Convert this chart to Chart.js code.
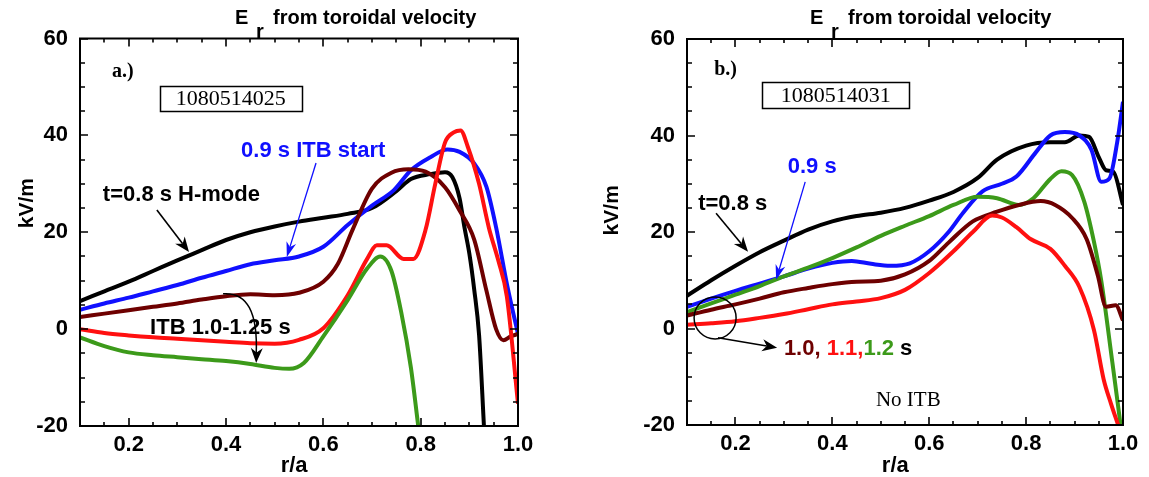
<!DOCTYPE html>
<html><head><meta charset="utf-8">
<script src="https://cdn.jsdelivr.net/npm/chart.js@4.4.0/dist/chart.umd.min.js"></script>
<style>
html,body{margin:0;padding:0;background:#fff;}
#wrap{position:relative;width:1149px;height:477px;overflow:hidden;}
#c1{position:absolute;left:0;top:0;}
#c2{position:absolute;left:575px;top:0;}
</style></head><body>
<div id="wrap"><canvas id="c1" width="575" height="477"></canvas><canvas id="c2" width="574" height="477"></canvas></div>
<script>
// ---------- tick labels ----------
const xTicks = [0.2, 0.4, 0.6, 0.8, 1.0];
const yTicks = [-20, 0, 20, 40, 60];

// ---------- panel a (1080514025) ----------
const aBlackX = [0.1,0.15,0.2,0.25,0.3,0.35,0.4,0.45,0.5,0.55,0.6,0.65,0.7,0.75,0.78,0.82,0.85,0.865,0.88,0.89,0.9,0.91,0.92,0.93];
const aBlackY = [5.8,7.8,9.8,12,14.2,16.3,18.4,20,21.2,22.2,23,23.8,25,28.5,31,32,32.4,31.4,27,21,15.6,8.2,-1.2,-20];
const aBlueX = [0.1,0.15,0.2,0.25,0.3,0.35,0.4,0.45,0.5,0.55,0.6,0.65,0.7,0.745,0.78,0.82,0.855,0.88,0.91,0.935,0.955,0.978,1.0];
const aBlueY = [4,5.3,6.5,7.8,9.1,10.6,12,13.4,14.2,15,17,21.5,25.5,28.7,32.8,35.5,37.1,36.6,34.2,29.4,21,8.9,-1];
const aMaroonX = [0.1,0.15,0.2,0.25,0.3,0.35,0.4,0.45,0.5,0.55,0.6,0.63,0.66,0.7,0.74,0.775,0.81,0.85,0.88,0.91,0.935,0.955,0.97,0.985,1.0];
const aMaroonY = [2.5,3.2,3.9,4.6,5.3,6.1,6.8,7.2,7,7.5,9.8,13.5,20.5,29,32.3,33,32.5,29.3,24.5,18.5,8,0,-2.3,-1.5,-1];
const aRedX = [0.1,0.15,0.2,0.25,0.3,0.35,0.4,0.45,0.5,0.55,0.6,0.65,0.69,0.71,0.73,0.765,0.785,0.81,0.83,0.85,0.868,0.882,0.897,0.92,0.94,0.96,0.977,1.0];
const aRedY = [0,-0.8,-1.3,-1.7,-2,-2.3,-2.6,-2.9,-3,-2.2,0.2,7,14.5,17.3,17.3,14.5,14.5,20.5,30,38.5,40.6,41,37.6,30,21,14,6.8,-15.4];
const aGreenX = [0.1,0.15,0.2,0.25,0.3,0.35,0.4,0.45,0.5,0.53,0.56,0.6,0.65,0.69,0.717,0.74,0.76,0.78,0.795];
const aGreenY = [-1.7,-3.5,-4.8,-5.4,-5.8,-6.2,-6.6,-7.2,-8,-8.2,-7,-1.5,6,12.5,15,12,3.5,-8,-20];

// ---------- panel b (1080514031) ----------
const bBlackX = [0.1,0.15,0.2,0.25,0.3,0.35,0.4,0.45,0.5,0.55,0.6,0.65,0.7,0.74,0.8,0.85,0.88,0.91,0.93,0.95,0.965,0.98,1.0];
const bBlackY = [6.8,10,13,15.8,18.2,20.5,22.2,23.3,24,25,26.5,28.3,31.2,35,37.9,38.6,38.6,40,39.7,35.5,32.8,32.5,25.6];
const bBlueX = [0.1,0.15,0.2,0.25,0.3,0.35,0.4,0.44,0.48,0.52,0.56,0.6,0.64,0.67,0.71,0.75,0.78,0.82,0.85,0.88,0.91,0.935,0.955,0.972,0.988,1.0];
const bBlueY = [4.5,6.2,7.8,9.3,10.8,12.4,13.6,14,13.4,13,13.5,16,20,24,28.4,30,31.5,36.5,40,40.7,40,37,30.4,31.1,38.6,47];
const bMaroonX = [0.1,0.15,0.2,0.25,0.3,0.35,0.4,0.45,0.5,0.55,0.6,0.64,0.69,0.74,0.785,0.83,0.86,0.895,0.925,0.948,0.965,0.985,1.0];
const bMaroonY = [2.7,3.9,5,6.2,7.5,8.4,9.2,9.7,9.9,11.2,14,17.8,22.2,24.2,25.6,26.4,25.6,22.9,18.5,11,4.5,4.8,1.7];
const bRedX = [0.1,0.15,0.2,0.25,0.3,0.35,0.4,0.45,0.5,0.55,0.6,0.65,0.69,0.73,0.75,0.78,0.81,0.85,0.88,0.91,0.94,0.96,0.975,0.99];
const bRedY = [0.8,1.1,1.5,2.2,3,4,5,5.6,6.3,8,11.5,16,20,23.4,23,21,18.5,16.5,13,8.6,-0.3,-10.5,-15.5,-20];
const bGreenX = [0.1,0.15,0.2,0.25,0.3,0.35,0.4,0.45,0.5,0.55,0.6,0.65,0.7,0.74,0.785,0.815,0.85,0.873,0.895,0.92,0.94,0.955,0.978,0.995];
const bGreenY = [3.4,5.2,7,8.8,10.8,12.6,14.6,16.8,19.2,21.3,23.3,25.6,27.3,27,25.6,27,31,32.6,31.8,26.3,18,10,-7,-20];

const COL = {black:'#000000', blue:'#1010ff', maroon:'#6e0000', red:'#ff1010', green:'#3c9a1a'};
const SANS = '"Liberation Sans", Arial, sans-serif';
const SERIF = '"Liberation Serif", "Times New Roman", serif';

function pts(xs, ys){ return xs.map((x,i)=>({x:x, y:ys[i]})); }
function ds(xs, ys, color){
  return {data: pts(xs,ys), borderColor: color, borderWidth: 4, pointRadius: 0,
          fill:false, cubicInterpolationMode:'monotone', clip: 0, borderJoinStyle:'round', borderCapStyle:'butt'};
}

function arrow(ctx,x1,y1,x2,y2,color,lw,hl,hw){
  hl = hl||14; hw = hw||5;
  ctx.strokeStyle=color; ctx.fillStyle=color; ctx.lineWidth=lw;
  const ang=Math.atan2(y2-y1,x2-x1), c=Math.cos(ang), s=Math.sin(ang);
  const bx=x2-c*hl*0.7, by=y2-s*hl*0.7;
  ctx.beginPath(); ctx.moveTo(x1,y1); ctx.lineTo(bx,by); ctx.stroke();
  head(ctx,x2,y2,ang,hl,hw);
}
function head(ctx,x2,y2,ang,hl,hw){
  const c=Math.cos(ang), s=Math.sin(ang);
  const bx=x2-c*hl*0.7, by=y2-s*hl*0.7;
  ctx.beginPath(); ctx.moveTo(x2,y2);
  ctx.lineTo(x2-c*hl - s*hw, y2-s*hl + c*hw);
  ctx.lineTo(bx,by);
  ctx.lineTo(x2-c*hl + s*hw, y2-s*hl - c*hw);
  ctx.closePath(); ctx.fill();
}

function frameAndTicks(chart){
  const ctx=chart.ctx, xs=chart.scales.x, ys=chart.scales.y, a=chart.chartArea;
  ctx.strokeStyle='#000'; ctx.lineWidth=2;
  ctx.strokeRect(a.left,a.top,a.right-a.left,a.bottom-a.top);
  ctx.lineWidth=1.6;
  ctx.beginPath();
  for(let k=2;k<=20;k++){
    const px=Math.round(xs.getPixelForValue(k/20));
    const L = (k%4===0)?8:4;
    ctx.moveTo(px,a.bottom); ctx.lineTo(px,a.bottom-L);
    ctx.moveTo(px,a.top); ctx.lineTo(px,a.top+L);
  }
  for(let v=-20; v<=60; v+=5){
    const py=Math.round(ys.getPixelForValue(v));
    const L = (v%20===0)?8:5;
    ctx.moveTo(a.left,py); ctx.lineTo(a.left+L,py);
    ctx.moveTo(a.right,py); ctx.lineTo(a.right-L,py);
  }
  ctx.stroke();
}

function titles(chart, eOffset, kvOffset, kvY, raX){
  const ctx=chart.ctx, a=chart.chartArea, X=v=>chart.scales.x.getPixelForValue(v), Y=v=>chart.scales.y.getPixelForValue(v);
  ctx.fillStyle='#000'; ctx.textBaseline='alphabetic'; ctx.textAlign='left';
  ctx.font='bold 20px '+SANS;
  const ex=a.left+eOffset;
  ctx.fillText('E', ex, 24);
  ctx.fillText('r', ex+21, 38);
  ctx.fillText('from toroidal velocity', ex+38, 24);
  // y title
  ctx.save();
  ctx.translate(a.left-kvOffset, Y(kvY));
  ctx.rotate(-Math.PI/2);
  ctx.textAlign='center'; ctx.textBaseline='middle';
  ctx.font='bold 21px '+SANS;
  ctx.fillText('kV/m',0,0);
  ctx.restore();
  // x title
  ctx.textAlign='center'; ctx.textBaseline='alphabetic';
  ctx.font='bold 22px '+SANS;
  ctx.fillText('r/a', X(raX), 472);
}

function boxLabel(ctx, cx, cy, text, w, h){
  ctx.font='22px '+SERIF; ctx.fillStyle='#000'; ctx.textAlign='center'; ctx.textBaseline='middle';
  ctx.fillText(text, cx, cy+1);
  ctx.strokeStyle='#000'; ctx.lineWidth=1.5;
  ctx.strokeRect(Math.round(cx-w/2)+0.5, Math.round(cy-h/2)+0.5, w, h);
}

const decoA = {id:'decoA', afterDraw(chart){
  const ctx=chart.ctx, X=v=>chart.scales.x.getPixelForValue(v), Y=v=>chart.scales.y.getPixelForValue(v);
  ctx.save();
  frameAndTicks(chart);
  titles(chart, 155, 53, 26, 0.54);
  ctx.textBaseline='alphabetic'; ctx.textAlign='left';
  ctx.fillStyle='#000'; ctx.font='bold 20px '+SERIF;
  ctx.fillText('a.)', X(0.166), Y(52.1));
  boxLabel(ctx, X(0.41), Y(47.7), '1080514025', 142, 25);
  ctx.textAlign='left'; ctx.textBaseline='alphabetic';
  ctx.font='bold 22px '+SANS;
  ctx.fillStyle=COL.blue; ctx.fillText('0.9 s ITB start', X(0.431), Y(35.5));
  arrow(ctx, X(0.585), Y(34.3), X(0.525), Y(14.9), COL.blue, 1.3, 15, 5);
  ctx.fillStyle='#000'; ctx.fillText('t=0.8 s H-mode', X(0.147), Y(26.5));
  arrow(ctx, X(0.258), Y(24.6), X(0.324), Y(15.9), '#000', 1.6, 15, 6);
  ctx.fillStyle='#000'; ctx.fillText('ITB 1.0-1.25 s', X(0.244), Y(-1.0));
  // curved arrow
  const p0=[X(0.394),Y(7.3)], p1=[X(0.468),Y(7.9)], p2=[X(0.462),Y(-7.0)];
  ctx.strokeStyle='#000'; ctx.lineWidth=1.5;
  ctx.beginPath(); ctx.moveTo(p0[0],p0[1]); ctx.quadraticCurveTo(p1[0],p1[1],p2[0],p2[1]-8); ctx.stroke();
  ctx.fillStyle='#000';
  head(ctx, p2[0], p2[1], Math.atan2(p2[1]-p1[1], p2[0]-p1[0]), 15, 6);
  ctx.restore();
}};

const decoB = {id:'decoB', afterDraw(chart){
  const ctx=chart.ctx, X=v=>chart.scales.x.getPixelForValue(v), Y=v=>chart.scales.y.getPixelForValue(v);
  ctx.save();
  frameAndTicks(chart);
  titles(chart, 123, 75, 24.5, 0.53);
  ctx.textBaseline='alphabetic'; ctx.textAlign='left';
  ctx.fillStyle='#000'; ctx.font='bold 20px '+SERIF;
  ctx.fillText('b.)', X(0.156), Y(52.5));
  boxLabel(ctx, X(0.407), Y(48.3), '1080514031', 147, 26);
  ctx.textAlign='left'; ctx.textBaseline='alphabetic';
  ctx.font='bold 22px '+SANS;
  ctx.fillStyle=COL.blue; ctx.fillText('0.9 s', X(0.308), Y(32.2));
  arrow(ctx, X(0.344), Y(30.4), X(0.284), Y(10.1), COL.blue, 1.3, 15, 5);
  ctx.fillStyle='#000'; ctx.fillText('t=0.8 s', X(0.123), Y(24.6));
  arrow(ctx, X(0.16), Y(23.9), X(0.226), Y(15.9), '#000', 1.6, 15, 6);
  // circle + arrow
  ctx.strokeStyle='#000'; ctx.lineWidth=1.5;
  ctx.beginPath(); ctx.arc(X(0.158), Y(2.2), 21, 0, Math.PI*2); ctx.stroke();
  arrow(ctx, X(0.164), Y(-1.9), X(0.286), Y(-4.0), '#000', 1.5, 15, 6);
  // multi-colour label
  let x0=X(0.30); const by=Y(-5.5);
  const parts=[['1.0, ',COL.maroon],['1.1,',COL.red],['1.2',COL.green],[' s','#000']];
  for(const [t,c] of parts){ ctx.fillStyle=c; ctx.fillText(t,x0,by); x0+=ctx.measureText(t).width; }
  ctx.fillStyle='#000'; ctx.font='21px '+SERIF;
  ctx.fillText('No ITB', X(0.49), Y(-16));
  ctx.restore();
}};

function makeChart(id, sets, yWidth, xHeight, pad, plugin){
  return new Chart(document.getElementById(id), {
    type:'line',
    data:{datasets:sets},
    options:{
      responsive:false, animation:false, devicePixelRatio:1,
      layout:{padding:pad},
      plugins:{legend:{display:false}, tooltip:{enabled:false}, title:{display:false}},
      scales:{
        x:{type:'linear', min:0.1, max:1.0,
           grid:{display:false, drawTicks:false}, border:{display:false},
           afterBuildTicks: s=>{ s.ticks = xTicks.map(v=>({value:v})); },
           afterFit: s=>{ s.height = xHeight; },
           ticks:{padding:6, color:'#000', font:{family:SANS, size:22, weight:'bold'}, maxRotation:0, autoSkip:false,
                  callback: v=>Number(v).toFixed(1)}},
        y:{type:'linear', min:-20, max:60,
           grid:{display:false, drawTicks:false}, border:{display:false},
           afterBuildTicks: s=>{ s.ticks = yTicks.map(v=>({value:v})); },
           afterFit: s=>{ s.width = yWidth; },
           ticks:{padding:12, color:'#000', font:{family:SANS, size:22, weight:'bold'}, autoSkip:false,
                  callback: v=>String(v)}}
      }
    },
    plugins:[plugin]
  });
}

makeChart('c1', [
  ds(aGreenX,aGreenY,COL.green), ds(aRedX,aRedY,COL.red), ds(aMaroonX,aMaroonY,COL.maroon),
  ds(aBlueX,aBlueY,COL.blue), ds(aBlackX,aBlackY,COL.black)
], 80, 51, {top:38.5, right:57, left:0, bottom:0}, decoA);

makeChart('c2', [
  ds(bRedX,bRedY,COL.red), ds(bMaroonX,bMaroonY,COL.maroon), ds(bGreenX,bGreenY,COL.green),
  ds(bBlueX,bBlueY,COL.blue), ds(bBlackX,bBlackY,COL.black)
], 112, 52, {top:39, right:26, left:0, bottom:0}, decoB);
</script>
</body></html>
